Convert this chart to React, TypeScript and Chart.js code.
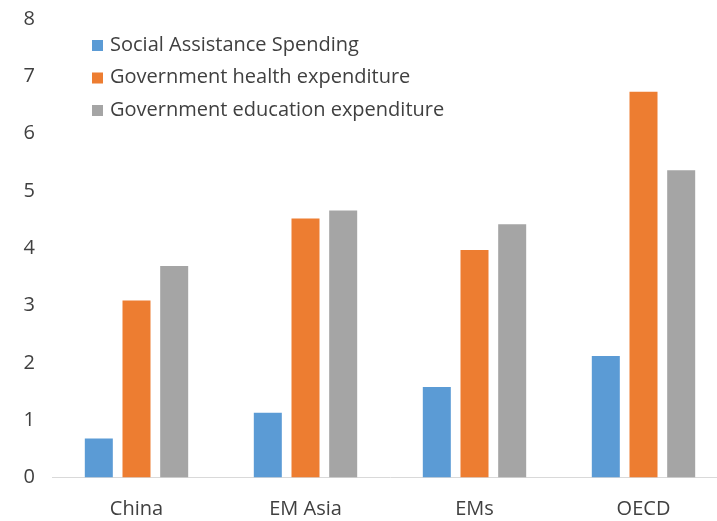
import React, { useEffect, useRef } from "react";
import { Chart, registerables } from "chart.js";

Chart.register(...registerables);

const categories = ["China", "EM Asia", "EMs", "OECD"];
const socialAssistance = [0.68, 1.13, 1.58, 2.12];
const healthExpenditure = [3.09, 4.52, 3.97, 6.73];
const educationExpenditure = [3.69, 4.66, 4.42, 5.36];
const seriesNames = [
  "Social Assistance Spending",
  "Government health expenditure",
  "Government education expenditure",
];
const seriesColors = ["#5B9BD5", "#ED7D31", "#A5A5A5"];
const yTicks = [0, 1, 2, 3, 4, 5, 6, 7, 8];

const FONT = "'Open Sans', 'DejaVu Sans', sans-serif";
const TEXT = "#404040";
const SIZE = 20;

const legendPlugin = {
  id: "insideLegend",
  afterDraw(chart: any) {
    const { ctx, chartArea } = chart;
    ctx.save();
    ctx.font = `${SIZE}px ${FONT}`;
    ctx.textBaseline = "middle";
    ctx.textAlign = "left";
    chart.data.datasets.forEach((ds: any, i: number) => {
      const x = chartArea.left + 40;
      const y = chartArea.top + 26 + i * 32.5;
      ctx.fillStyle = ds.backgroundColor;
      ctx.fillRect(x, y - 5, 11, 11);
      ctx.fillStyle = TEXT;
      ctx.fillText(ds.label, x + 18, y);
    });
    ctx.restore();
  },
};

export default function App() {
  const ref = useRef<HTMLCanvasElement | null>(null);
  useEffect(() => {
    if (!ref.current) return;
    const values = [socialAssistance, healthExpenditure, educationExpenditure];
    const chart = new Chart(ref.current, {
      type: "bar",
      data: {
        labels: categories,
        datasets: values.map((v, i) => ({
          label: seriesNames[i],
          data: v,
          backgroundColor: seriesColors[i],
          categoryPercentage: 0.669,
          barPercentage: 0.743,
        })),
      },
      options: {
        responsive: false,
        animation: false,
        layout: { padding: { top: 19, right: 12, left: 0, bottom: 0 } },
        plugins: { legend: { display: false }, tooltip: { enabled: false } },
        scales: {
          x: {
            grid: { display: false, drawTicks: false },
            border: { display: true, color: "#D9D9D9", width: 1 },
            ticks: { color: TEXT, font: { family: FONT, size: SIZE }, padding: 20 },
            afterFit: (s: any) => {
              s.height = 43.5;
              s.paddingLeft = 0;
              s.paddingRight = 0;
            },
          },
          y: {
            min: 0,
            max: 8,
            afterBuildTicks: (s: any) => {
              s.ticks = yTicks.map((v) => ({ value: v }));
            },
            grid: { display: false, drawTicks: false },
            border: { display: false },
            ticks: { color: TEXT, font: { family: FONT, size: SIZE }, padding: 17 },
            afterFit: (s: any) => {
              s.width = 52;
              s.paddingTop = 0;
              s.paddingBottom = 0;
            },
          },
        },
      },
      plugins: [legendPlugin],
    });
    return () => chart.destroy();
  }, []);
  return (
    <div
      style={{
        position: "fixed",
        left: 0,
        top: 0,
        width: 717,
        height: 521,
        overflow: "hidden",
        background: "#fff",
      }}
    >
      <canvas ref={ref} width={740} height={521} style={{ display: "block" }} />
    </div>
  );
}
